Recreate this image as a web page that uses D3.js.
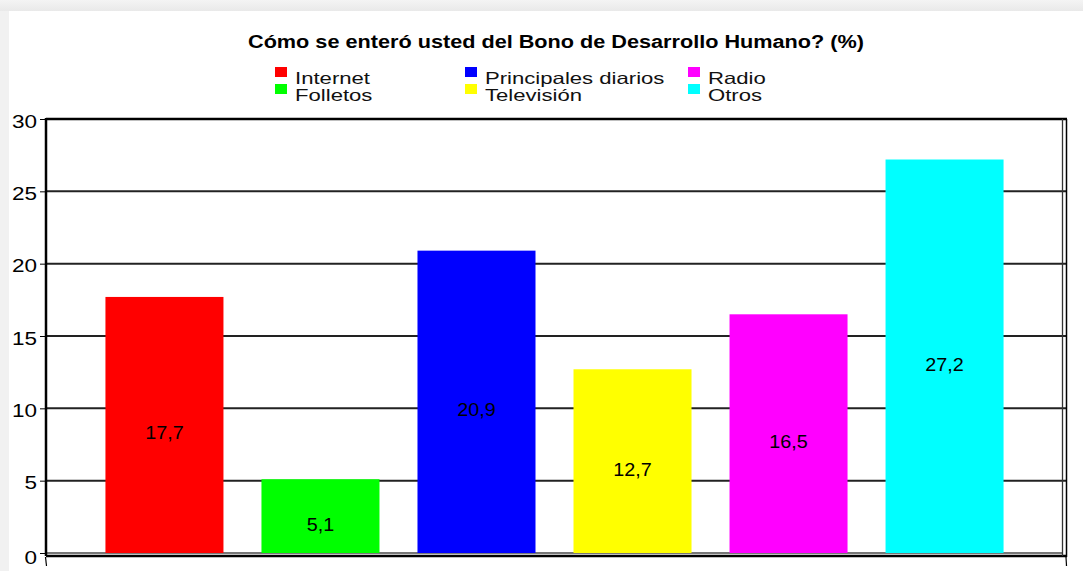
<!DOCTYPE html>
<html><head><meta charset="utf-8">
<script src="https://cdn.jsdelivr.net/npm/d3@7"></script>
<style>body{margin:0;background:#fff}svg{display:block}</style>
</head><body>
<script>
const categories = ["Internet","Folletos","Principales diarios","Televisión","Radio","Otros"];
const values = [17.7,5.1,20.9,12.7,16.5,27.2];
const valueLabels = ["17,7","5,1","20,9","12,7","16,5","27,2"];
const colors = ["#ff0000","#00ff00","#0000ff","#ffff00","#ff00ff","#00ffff"];
const yTicks = [0,5,10,15,20,25,30];
const title = "Cómo se enteró usted del Bono de Desarrollo Humano? (%)";

(function(){
const W=1083,H=571;
const svg=d3.select("body").append("svg").attr("width",W).attr("height",H);
const font="Liberation Sans, Arial, sans-serif";

// horizontally widen text like the original renderer
function stretch(sel,f){
  sel.each(function(){
    const n=this.getComputedTextLength();
    d3.select(this).attr("textLength",n*f).attr("lengthAdjust","spacingAndGlyphs");
  });
}

// page background & card
const defs=svg.append("defs");
const g1=defs.append("linearGradient").attr("id","tg").attr("x1",0).attr("y1",0).attr("x2",0).attr("y2",1);
g1.append("stop").attr("offset",0).attr("stop-color","#f4f4f4");
g1.append("stop").attr("offset",1).attr("stop-color","#e9e9e9");
svg.append("rect").attr("width",W).attr("height",H).attr("fill","#f1f1f1");
svg.append("rect").attr("width",W).attr("height",11).attr("fill","url(#tg)");
svg.append("rect").attr("x",9).attr("y",11).attr("width",W-9).attr("height",H-11).attr("fill","#fff");

const pL=46,pT=119,pB=553;
const x=d3.scaleBand().domain(categories).range([pL,1063]).paddingInner(0.2436).paddingOuter(0.381);
const y=d3.scaleLinear().domain([0,30]).range([pB,pT]);

// gridlines
svg.append("g").selectAll("line").data(yTicks.filter(d=>d>0)).join("line")
  .attr("x1",pL).attr("x2",1067).attr("y1",d=>y(d)).attr("y2",d=>y(d))
  .attr("stroke",d=>d===30?"#000":"#222").attr("stroke-width",d=>d===30?2.5:2);
// zero line gray
svg.append("line").attr("x1",pL).attr("x2",1063).attr("y1",y(0)).attr("y2",y(0))
  .attr("stroke","#777").attr("stroke-width",2);

// bars
svg.append("g").selectAll("rect").data(values).join("rect")
  .attr("x",(d,i)=>x(categories[i])).attr("width",x.bandwidth())
  .attr("y",d=>y(d)).attr("height",d=>y(0)-y(d)).attr("fill",(d,i)=>colors[i]);

// value labels
svg.append("g").selectAll("text").data(values).join("text")
  .attr("x",(d,i)=>x(categories[i])+x.bandwidth()/2)
  .attr("y",d=>(y(d)+y(0))/2+14.5)
  .attr("text-anchor","middle").attr("font-family",font).attr("font-size",18)
  .attr("fill","#000").text((d,i)=>valueLabels[i])
  .call(stretch,1.1);

// axes lines
svg.append("line").attr("x1",pL).attr("x2",pL).attr("y1",pT-1).attr("y2",pB+3).attr("stroke","#000").attr("stroke-width",2.5);
svg.append("line").attr("x1",pL).attr("x2",1067).attr("y1",pB+3).attr("y2",pB+3).attr("stroke","#000").attr("stroke-width",2.5);
// right double border
svg.append("line").attr("x1",1062.5).attr("x2",1062.5).attr("y1",pT).attr("y2",pB+3).attr("stroke","#333").attr("stroke-width",1.3);
svg.append("line").attr("x1",1066.5).attr("x2",1066.5).attr("y1",pT).attr("y2",pB+4).attr("stroke","#000").attr("stroke-width",1.5);
// bottom small ticks
svg.append("line").attr("x1",pL-0.5).attr("x2",pL+0.5).attr("y1",pB+4).attr("y2",pB+13).attr("stroke","#000").attr("stroke-width",1.2);
svg.append("line").attr("x1",1066).attr("x2",1066.5).attr("y1",pB+4).attr("y2",pB+13).attr("stroke","#000").attr("stroke-width",1.2);

// y axis ticks & labels
const ya=svg.append("g").attr("transform",`translate(${pL},0)`)
  .call(d3.axisLeft(y).tickValues(yTicks).tickSize(6).tickFormat(d3.format("d")));
ya.select(".domain").remove();
ya.selectAll(".tick line").attr("stroke","#000").attr("stroke-width",1);
ya.selectAll(".tick text").attr("font-family",font).attr("font-size",18).attr("fill","#000").attr("x",-9)
  .attr("dy",d=>d===0?"0.6em":"0.45em")
  .call(stretch,1.25);

// title
svg.append("text").attr("x",556).attr("y",48).attr("text-anchor","middle")
  .attr("font-family",font).attr("font-weight","bold").attr("font-size",18).attr("fill","#000").text(title)
  .attr("textLength",616).attr("lengthAdjust","spacingAndGlyphs");

// legend
const legX=[275,465,688], legY=[67,84];
const order=[0,2,4,1,3,5];
const legend=svg.append("g");
categories.forEach((c,i)=>{
  const k=order.indexOf(i);
  const col=k%3, row=k<3?0:1;
  legend.append("rect").attr("x",legX[col]).attr("y",legY[row]).attr("width",12).attr("height",10).attr("fill",colors[i]);
  legend.append("text").attr("x",legX[col]+20).attr("y",legY[row]+17).attr("font-family",font).attr("font-size",16.5)
    .attr("fill","#111").text(c).call(stretch,1.34);
});
})();
</script>
</body></html>
